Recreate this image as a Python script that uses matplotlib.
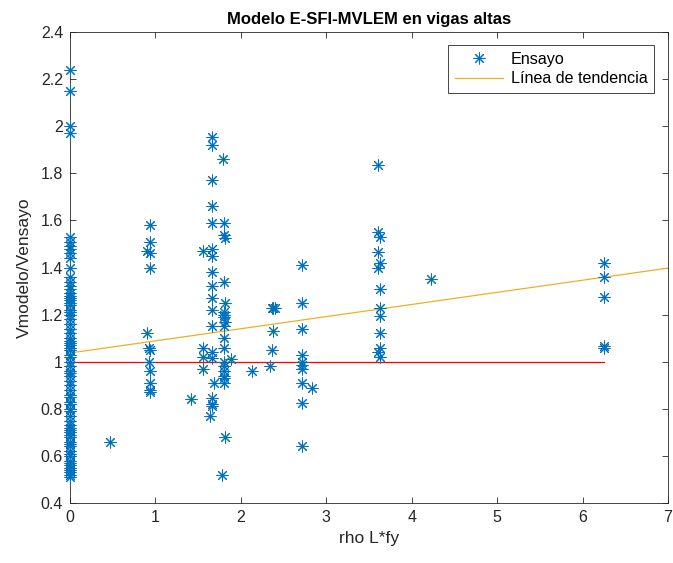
import matplotlib
matplotlib.use("Agg")
import matplotlib.pyplot as plt
import numpy as np

plt.rcParams['font.family'] = ['Liberation Sans', 'DejaVu Sans']

# Test results: rho L*fy vs. Vmodelo/Vensayo
rho_zero = [0.0] * 72
ratio_zero = [2.24, 2.15, 2.00, 1.97,
              1.53, 1.51, 1.49, 1.48, 1.46, 1.44, 1.40, 1.36, 1.34, 1.32,
              1.31, 1.29, 1.28, 1.27, 1.26, 1.25, 1.24, 1.22, 1.21, 1.20,
              1.18, 1.16, 1.14, 1.12, 1.10, 1.09, 1.08, 1.07, 1.06, 1.05,
              1.03, 1.02, 1.00, 0.98, 0.96, 0.95, 0.94, 0.92, 0.90, 0.88,
              0.86, 0.85, 0.83, 0.82, 0.80, 0.79, 0.77, 0.75, 0.73, 0.72,
              0.71, 0.70, 0.69, 0.68, 0.66, 0.65, 0.64, 0.62, 0.61, 0.60,
              0.58, 0.57, 0.56, 0.55, 0.54, 0.53, 0.52, 0.51]

rho_other = [0.47,
             0.94, 0.94, 0.90, 0.94, 0.94, 0.90, 0.92, 0.94, 0.92, 0.94, 0.94, 0.94, 0.94,
             1.42,
             1.66, 1.66, 1.79, 1.66, 1.66, 1.66, 1.80, 1.80, 1.82, 1.56, 1.66, 1.66,
             1.66, 1.66, 1.80, 1.66, 1.82, 1.66, 1.80, 1.80, 1.80, 1.82, 1.80, 1.80,
             1.66, 1.80, 1.80, 1.56, 1.66, 1.56, 1.66, 1.89, 1.80, 1.80, 1.80, 1.80,
             1.56, 1.68, 1.80, 1.66, 1.66, 1.66, 1.81, 1.78, 1.64,
             2.13,
             2.36, 2.38, 2.40, 2.38, 2.36, 2.34,
             2.71, 2.71, 2.71, 2.71, 2.71, 2.71, 2.71, 2.71, 2.83, 2.71, 2.71,
             3.61, 3.61, 3.63, 3.61, 3.63, 3.61, 3.63, 3.63, 3.63, 3.63, 3.63, 3.61, 3.63,
             4.23,
             6.25, 6.25, 6.25, 6.25, 6.25]
ratio_other = [0.66,
               1.58, 1.51, 1.47, 1.46, 1.40, 1.12, 1.06, 1.05, 1.00, 0.96, 0.91, 0.88, 0.87,
               0.84,
               1.955, 1.92, 1.86, 1.77, 1.66, 1.59, 1.59, 1.54, 1.525, 1.47, 1.48, 1.45,
               1.38, 1.32, 1.34, 1.27, 1.25, 1.22, 1.21, 1.20, 1.19, 1.17, 1.15, 1.10,
               1.15, 1.06, 1.00, 1.06, 1.04, 1.02, 1.015, 1.01, 0.98, 0.96, 0.94, 0.93,
               0.97, 0.91, 0.91, 0.845, 0.82, 0.81, 0.68, 0.52, 0.77,
               0.96,
               1.23, 1.23, 1.23, 1.13, 1.05, 0.98,
               1.41, 1.25, 1.14, 1.03, 0.985, 0.97, 0.91, 0.825, 0.89, 0.64, 1.00,
               1.835, 1.55, 1.53, 1.465, 1.42, 1.40, 1.31, 1.23, 1.195, 1.12, 1.06, 1.04, 1.02,
               1.35,
               1.42, 1.36, 1.275, 1.067, 1.06]

rho = rho_zero + rho_other
ratio = ratio_zero + ratio_other

# Linear trend coefficients
trend_intercept = 1.037
trend_slope = 0.0515
trend_x = [0, 7]

# Reference line at Vmodelo/Vensayo = 1
ref_x = [0, 6.25]
ref_y = [1, 1]

fig = plt.figure(figsize=(6.73, 5.63), dpi=100)
ax = fig.add_axes([70/673, 60/563, 598/673, 471/563])

ax.plot(rho, ratio, linestyle='none', marker=(8, 2, 0), markersize=8.5,
        markeredgewidth=0.75, color='#0072BD', label='Ensayo', clip_on=False,
        zorder=3)
ax.plot(trend_x, [trend_intercept + trend_slope * x for x in trend_x],
        color='#EDB120', linewidth=0.9, label='Línea de tendencia', zorder=2)
ax.plot(ref_x, ref_y, color='#FF0000', linewidth=0.9, zorder=2)

ax.set_xlim(0, 7)
ax.set_ylim(0.4, 2.4)
ax.set_xticks(np.arange(0, 8, 1))
yt = np.round(np.arange(0.4, 2.41, 0.2), 1)
ax.set_yticks(yt)
ax.set_yticklabels([f'{v:g}' for v in yt])

axis_color = '#262626'
for s in ax.spines.values():
    s.set_color(axis_color)
    s.set_linewidth(0.6)
ax.tick_params(direction='in', length=4, width=0.6, colors=axis_color,
               labelsize=11.5, top=True, right=True, pad=5)

ax.set_title('Modelo E-SFI-MVLEM en vigas altas', fontsize=12, fontweight='bold',
             color='black', pad=6)
ax.set_xlabel('rho L*fy', fontsize=12.5, color=axis_color)
ax.set_ylabel('Vmodelo/Vensayo', fontsize=12.5, color=axis_color, labelpad=6)

leg = ax.legend(loc='upper right', bbox_to_anchor=(0.977, 0.972), fontsize=11.6,
                fancybox=False, framealpha=1, edgecolor=axis_color,
                handlelength=3.0, handletextpad=0.5, borderpad=0.4,
                labelspacing=0.3, borderaxespad=0)
leg.get_frame().set_linewidth(0.6)
leg.set_zorder(5)

fig.savefig('out.png', dpi=100)
